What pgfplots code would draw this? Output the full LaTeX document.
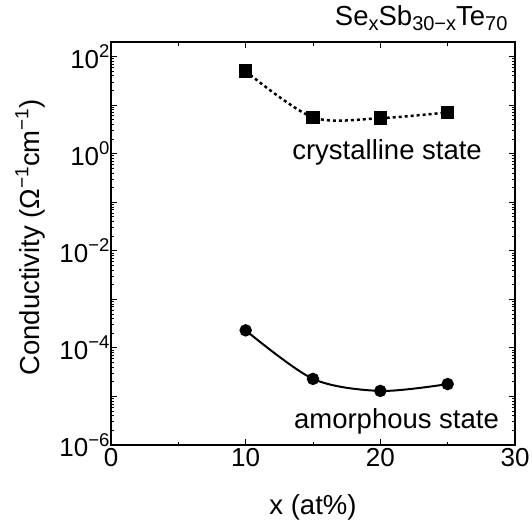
\documentclass[border=0pt]{standalone}
\usepackage{fontspec}
\setmainfont{Liberation Sans}
\usepackage{pgfplots}
\pgfplotsset{compat=1.18}
\newcommand{\ex}[1]{\raisebox{10.5pt}{\fontsize{18.5}{20}\selectfont #1}}
\newcommand{\lsup}[1]{\raisebox{11pt}{\fontsize{19}{20}\selectfont #1}}
\newcommand{\tsub}[1]{\raisebox{-5pt}{\fontsize{20}{22}\selectfont #1}}
\begin{document}
\begin{tikzpicture}
\begin{axis}[
  scale only axis,
  width=404pt, height=403pt,
  ymode=log,
  xmin=0, xmax=30, ymin=1e-6, ymax=200,
  xtick={0,10,20,30},
  minor x tick num=1,
  ytick={1e-6,1e-5,1e-4,1e-3,1e-2,1e-1,1,1e1,1e2},
  yticklabels={10\ex{−6},,10\ex{−4},,10\ex{−2},,10\ex{0},,10\ex{2}},
  xticklabels={0,10,20,30},
  tick align=inside,
  major tick length=6pt, minor tick length=3.5pt,
  every tick/.style={black, line width=0.9pt},
  axis line style={line width=1.2pt},
  tick label style={font=\fontsize{26}{30}\selectfont},
  yticklabel style={xshift=2pt},
  label style={font=\fontsize{27.5}{30}\selectfont},
  xlabel={x (at\%)},
  ylabel={Conductivity (Ω\lsup{−1}cm\lsup{−1})},
  xlabel style={at={(axis description cs:0.5,-0.154)}, anchor=center},
  ylabel style={at={(axis description cs:-0.2,0.515)}, anchor=center},
  clip=false,
]
\addplot[black, line width=2.5pt, dash pattern=on 3pt off 3pt, smooth, mark=square*, mark size=5.5pt, mark options={solid}]
  coordinates {(10,50) (15,5.6) (20,5.4) (25,7.1)};
\addplot[black, line width=2pt, smooth, mark=*, mark size=5.2pt]
  coordinates {(10,2.3e-4) (15,2.3e-5) (20,1.3e-5) (25,1.8e-5)};
\node[font=\fontsize{27.5}{30}\selectfont, anchor=base] at (axis cs:20.5,0.75) {crystalline state};
\node[font=\fontsize{27.5}{30}\selectfont, anchor=base] at (axis cs:21.2,2.24e-6) {amorphous state};
\node[font=\fontsize{27.5}{30}\selectfont, anchor=base east] at ([yshift=17pt,xshift=-4pt]rel axis cs:1,1) {Se\tsub{x}Sb\tsub{30−x}Te\tsub{70}};
\coordinate (bl) at (rel axis cs:0,0);
\coordinate (tr) at (rel axis cs:1,1);
\end{axis}
\pgfresetboundingbox
\path[use as bounding box] ([xshift=-111pt,yshift=-80pt]bl) rectangle ([xshift=17pt,yshift=42pt]tr);
\end{tikzpicture}
\end{document}
